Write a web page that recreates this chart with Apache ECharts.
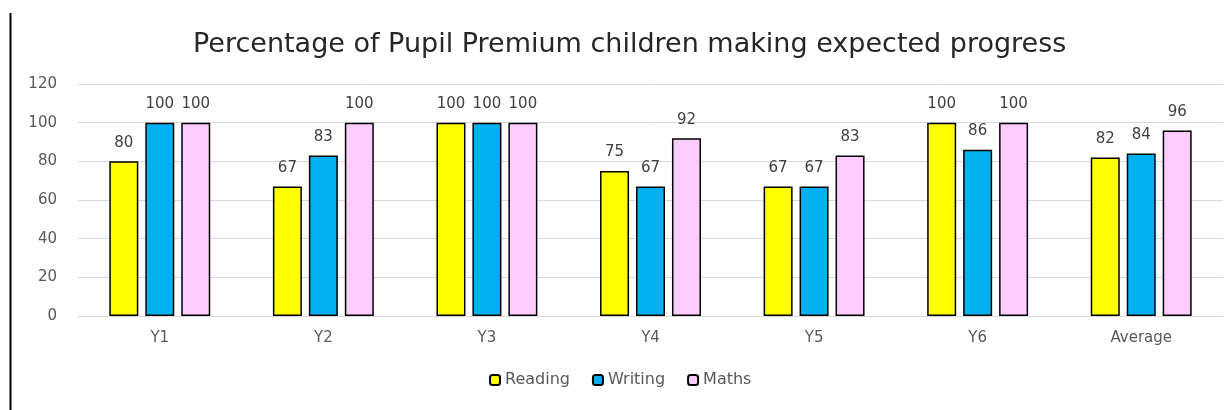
<!DOCTYPE html>
<html>
<head>
<meta charset="utf-8">
<script src="https://cdn.jsdelivr.net/npm/echarts@6/dist/echarts.min.js"></script>
<style>
  html, body { margin: 0; padding: 0; background: #fff; }
  #chart { width: 1226px; height: 410px; }
</style>
</head>
<body>
<div id="chart"></div>
<script>
const categories = ['Y1', 'Y2', 'Y3', 'Y4', 'Y5', 'Y6', 'Average'];
const reading = [80, 67, 100, 75, 67, 100, 82];
const writing = [100, 83, 100, 67, 67, 86, 84];
const maths = [100, 100, 100, 92, 83, 100, 96];

const chart = echarts.init(document.getElementById('chart'));

const font = 'DejaVu Sans';
const labelStyle = { show: true, position: 'top', distance: 11, color: '#404040', fontSize: 15, fontFamily: font };
const barBase = { type: 'bar', barWidth: 29, barGap: '24%', label: labelStyle };

chart.setOption({
  animation: false,
  title: {
    text: 'Percentage of Pupil Premium children making expected progress',
    left: 188,
    top: 26,
    textStyle: { color: '#262626', fontSize: 27, fontWeight: 'normal', fontFamily: font },
  },
  legend: {
    data: ['Reading', 'Writing', 'Maths'],
    bottom: 17,
    left: 484,
    itemWidth: 10,
    itemHeight: 10,
    itemGap: 22,
    textStyle: { color: '#595959', fontSize: 16, fontFamily: font },
  },
  grid: { left: 78, right: 3, top: 84, bottom: 94 },
  xAxis: {
    type: 'category',
    data: categories,
    axisLine: { lineStyle: { color: '#d9d9d9' } },
    axisTick: { show: false },
    axisLabel: { color: '#595959', fontSize: 15, margin: 15, fontFamily: font },
  },
  yAxis: {
    type: 'value',
    min: 0,
    max: 120,
    interval: 20,
    axisLine: { show: false },
    axisTick: { show: false },
    axisLabel: { color: '#595959', fontSize: 15, margin: 21, fontFamily: font },
    splitLine: { lineStyle: { color: '#d9d9d9' } },
  },
  graphic: [{
    type: 'line',
    shape: { x1: 10.5, y1: 13, x2: 10.5, y2: 410 },
    style: { stroke: '#000', lineWidth: 2 },
  }],
  series: [
    { ...barBase, name: 'Reading', data: reading, itemStyle: { color: '#ffff00', borderColor: '#000', borderWidth: 1.5 } },
    { ...barBase, name: 'Writing', data: writing, itemStyle: { color: '#00b0f0', borderColor: '#000', borderWidth: 1.5 } },
    { ...barBase, name: 'Maths', data: maths, itemStyle: { color: '#ffccff', borderColor: '#000', borderWidth: 1.5 } },
  ],
});
</script>
</body>
</html>
